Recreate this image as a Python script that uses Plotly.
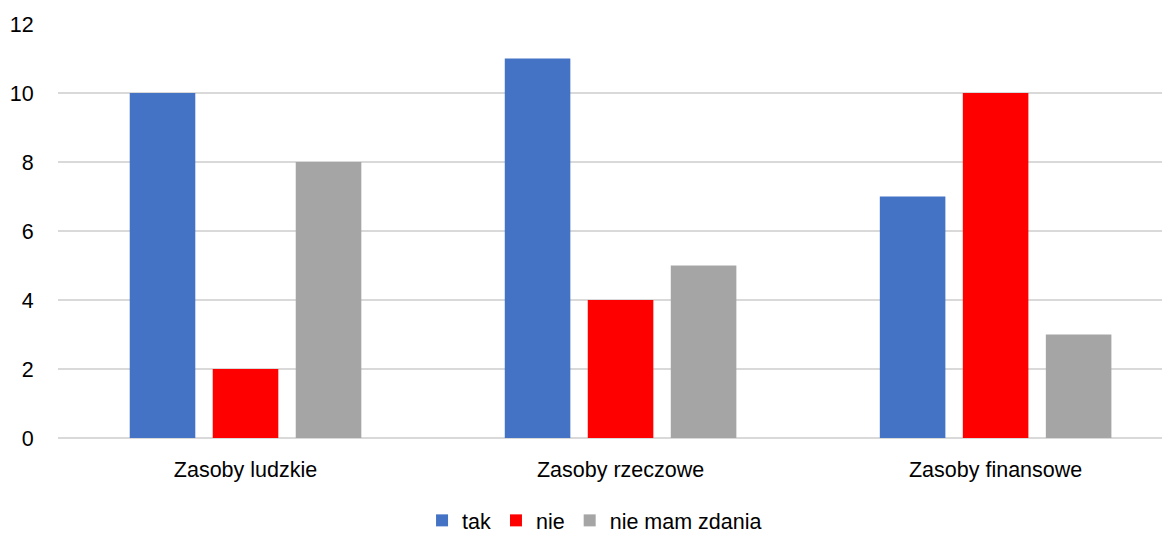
import plotly.graph_objects as go

categories = ["Zasoby ludzkie", "Zasoby rzeczowe", "Zasoby finansowe"]
series_names = ["tak", "nie", "nie mam zdania"]
tak = [10, 11, 7]
nie = [2, 4, 10]
brak = [8, 5, 3]
colors = ["#4472C4", "#FF0000", "#A5A5A5"]

fig = go.Figure()
for name, vals, col in zip(series_names, [tak, nie, brak], colors):
    fig.add_trace(go.Bar(x=categories, y=vals, name=name, marker_color=col,
                         marker_line_width=0))

# page body has an 8px default margin, so the figure is 8px smaller each way
font = dict(family="Liberation Sans, Arial, sans-serif", size=21.5, color="#000000")
fig.update_layout(
    width=1162, height=526,
    margin=dict(l=50, r=0, t=16, b=96, autoexpand=False),
    paper_bgcolor="white", plot_bgcolor="white",
    barmode="group", bargap=0.336, bargroupgap=0.21,
    font=font,
    showlegend=True,
    legend=dict(orientation="h", x=0.4825, xanchor="center", y=-0.199, yanchor="middle",
                font=dict(size=21.5), itemwidth=30, traceorder="normal"),
    xaxis=dict(range=[-0.5, 2.465], showgrid=False, showline=False, zeroline=False,
               automargin=False,
               ticks="outside", ticklen=12, tickcolor="rgba(0,0,0,0)", tickfont=dict(size=21.5)),
    yaxis=dict(range=[0, 12], dtick=2, showgrid=True, gridcolor="#D9D9D9", gridwidth=1.5,
               automargin=False,
               zeroline=True, zerolinecolor="#D9D9D9", zerolinewidth=1.5,
               ticks="outside", ticklen=19, tickcolor="rgba(0,0,0,0)", tickfont=dict(size=21.5)),
)
fig.write_html("out.html")
